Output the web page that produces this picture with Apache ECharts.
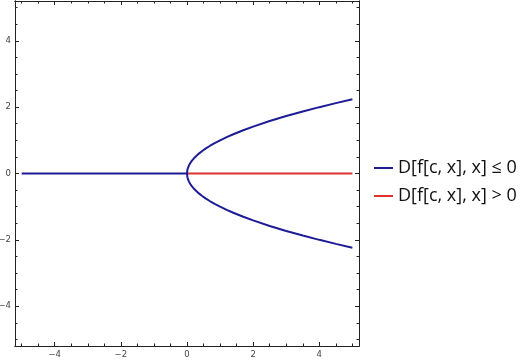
<!DOCTYPE html>
<html><head><meta charset="utf-8">
<script src="https://cdn.jsdelivr.net/npm/echarts@6/dist/echarts.min.js"></script>
<style>html,body{margin:0;padding:0;background:#fff}#c{width:521px;height:362px}</style>
</head><body><div id="c"></div>
<script>
var seriesNames = ['D[f[c, x], x] \u2264 0', 'D[f[c, x], x] > 0'];
var majorTicks = [-4, -2, 0, 2, 4];
var minorTicks = [-5, -4.5, -4, -3.5, -3, -2.5, -2, -1.5, -1, -0.5, 0, 0.5, 1, 1.5, 2, 2.5, 3, 3.5, 4, 4.5, 5];
// blue branch for x <= 0
var blueFlat = [[-5, 0], [0, 0]];
// blue parabola (lower branch to upper branch)
var blueCurve = [
  [5, -2.236], [4.5, -2.121], [4, -2.0], [3.5, -1.871], [3, -1.732], [2.5, -1.581], [2, -1.414],
  [1.7, -1.304], [1.4, -1.183], [1.2, -1.095], [1, -1.0], [0.85, -0.922], [0.7, -0.837], [0.56, -0.748],
  [0.45, -0.671], [0.36, -0.6], [0.28, -0.529], [0.21, -0.458], [0.15, -0.387], [0.1, -0.316],
  [0.06, -0.245], [0.03, -0.173], [0.012, -0.11], [0.003, -0.055], [0, 0],
  [0.003, 0.055], [0.012, 0.11], [0.03, 0.173], [0.06, 0.245], [0.1, 0.316], [0.15, 0.387],
  [0.21, 0.458], [0.28, 0.529], [0.36, 0.6], [0.45, 0.671], [0.56, 0.748], [0.7, 0.837],
  [0.85, 0.922], [1, 1.0], [1.2, 1.095], [1.4, 1.183], [1.7, 1.304], [2, 1.414], [2.5, 1.581],
  [3, 1.732], [3.5, 1.871], [4, 2.0], [4.5, 2.121], [5, 2.236]
];
var redFlat = [[0, 0], [5, 0]];

var lab = {fontFamily: 'DejaVu Sans', fontSize: 8.5, color: '#444'};
function xa(pos, major, show) {
  return {type: 'value', min: -5.2, max: 5.2, position: pos,
    axisLine: {show: true, onZero: false, lineStyle: {color: '#222', width: 1}},
    axisTick: {show: true, inside: true, length: major ? 4 : 2.5, customValues: major ? majorTicks : minorTicks, lineStyle: {color: '#222'}},
    axisLabel: {show: show, customValues: majorTicks, margin: 4, formatter: function (v) { return String(v).replace('-', '\u2212'); }, fontFamily: lab.fontFamily, fontSize: lab.fontSize, color: lab.color},
    splitLine: {show: false}};
}
var chart = echarts.init(document.getElementById('c'));
chart.setOption({
  animation: false,
  grid: {left: 15, right: 162, top: 1, bottom: 16, containLabel: false, outerBoundsMode: 'none'},
  xAxis: [xa('bottom', true, true), xa('bottom', false, false), xa('top', true, false), xa('top', false, false)],
  yAxis: [xa('left', true, true), xa('left', false, false), xa('right', true, false), xa('right', false, false)],
  legend: {orient: 'vertical', left: 374, top: 159, padding: 0, icon: 'rect', itemWidth: 19, itemHeight: 2, itemGap: 10,
    data: seriesNames,
    textStyle: {fontFamily: 'Open Sans', fontSize: 18, color: '#111', lineHeight: 18}},
  series: [
    {name: seriesNames[1], type: 'line', data: redFlat, showSymbol: false, symbol: 'none', z: 2,
      lineStyle: {color: '#e03030', width: 2}, itemStyle: {color: '#e03030'}},
    {name: seriesNames[0], type: 'line', data: blueFlat, showSymbol: false, symbol: 'none', z: 3,
      lineStyle: {color: '#1c1c96', width: 2}, itemStyle: {color: '#1c1c96'}},
    {name: seriesNames[0], type: 'line', data: blueCurve, showSymbol: false, symbol: 'none', z: 3,
      lineStyle: {color: '#1c1c96', width: 2}, itemStyle: {color: '#1c1c96'}}
  ]
});
</script></body></html>
